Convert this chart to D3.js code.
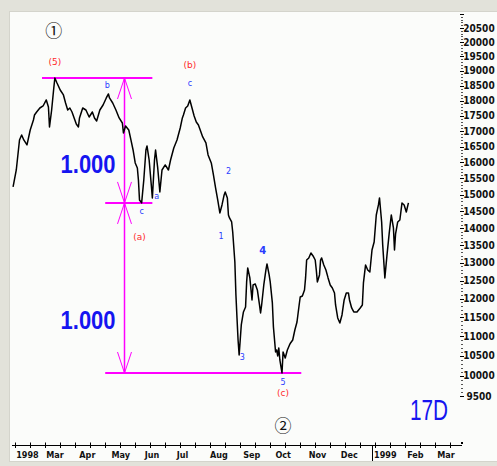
<!DOCTYPE html>
<html>
<head>
<meta charset="utf-8">
<script src="https://cdn.jsdelivr.net/npm/d3@7"></script>
<style>
  body { margin: 0; background: #e2e2da; }
  svg { display: block; }
</style>
</head>
<body>
<div id="chart"></div>
<script>
// ---- data ---------------------------------------------------------------
let dates = [
  "1998-01-31","1998-02-03","1998-02-06","1998-02-08","1998-02-10","1998-02-13","1998-02-16","1998-02-19","1998-02-20","1998-02-22",
  "1998-02-25","1998-02-28","1998-03-03","1998-03-05","1998-03-06","1998-03-08","1998-03-10","1998-03-11","1998-03-13","1998-03-16",
  "1998-03-19","1998-03-21","1998-03-23","1998-03-25","1998-03-27","1998-03-29","1998-03-31","1998-04-02","1998-04-03","1998-04-06",
  "1998-04-09","1998-04-12","1998-04-15","1998-04-17","1998-04-19","1998-04-22","1998-04-25","1998-04-28","1998-04-30","1998-05-01",
  "1998-05-04","1998-05-07","1998-05-10","1998-05-13","1998-05-14","1998-05-16","1998-05-19","1998-05-21","1998-05-23","1998-05-25",
  "1998-05-27","1998-05-28","1998-05-29","1998-05-31","1998-06-02","1998-06-04","1998-06-05","1998-06-07","1998-06-09","1998-06-10",
  "1998-06-12","1998-06-13","1998-06-15","1998-06-17","1998-06-19","1998-06-22","1998-06-25","1998-06-27","1998-06-30","1998-07-03",
  "1998-07-06","1998-07-08","1998-07-09","1998-07-11","1998-07-13","1998-07-15","1998-07-17","1998-07-19","1998-07-21","1998-07-23",
  "1998-07-24","1998-07-27","1998-07-30","1998-08-01","1998-08-04","1998-08-06","1998-08-08","1998-08-10","1998-08-12","1998-08-14",
  "1998-08-16","1998-08-17","1998-08-19","1998-08-20","1998-08-21","1998-08-23","1998-08-24","1998-08-26","1998-08-27","1998-08-28",
  "1998-08-29","1998-08-30","1998-08-31","1998-09-01","1998-09-03","1998-09-05","1998-09-06","1998-09-07","1998-09-09","1998-09-11",
  "1998-09-12","1998-09-14","1998-09-16","1998-09-18","1998-09-19","1998-09-20","1998-09-22","1998-09-24","1998-09-25","1998-09-27",
  "1998-09-28","1998-09-30","1998-10-01","1998-10-03","1998-10-04","1998-10-05","1998-10-06","1998-10-07","1998-10-09","1998-10-10",
  "1998-10-12","1998-10-14","1998-10-16","1998-10-17","1998-10-19","1998-10-21","1998-10-23","1998-10-25","1998-10-26","1998-10-28",
  "1998-10-30","1998-10-31","1998-11-01","1998-11-03","1998-11-05","1998-11-07","1998-11-09","1998-11-10","1998-11-11","1998-11-13",
  "1998-11-14","1998-11-15","1998-11-17","1998-11-19","1998-11-21","1998-11-23","1998-11-25","1998-11-27","1998-11-28","1998-11-30",
  "1998-12-02","1998-12-04","1998-12-06","1998-12-08","1998-12-10","1998-12-11","1998-12-13","1998-12-15","1998-12-18","1998-12-21",
  "1998-12-23","1998-12-24","1998-12-26","1998-12-28","1998-12-30","1999-01-01","1999-01-03","1999-01-05","1999-01-07","1999-01-08",
  "1999-01-09","1999-01-10","1999-01-11","1999-01-13","1999-01-15","1999-01-17","1999-01-19","1999-01-21","1999-01-22","1999-01-23",
  "1999-01-25","1999-01-27","1999-01-29","1999-01-31","1999-02-02","1999-02-04"
];

let closes = [
  15236,15761,16711,16872,16711,16551,17033,17359,17523,17621,
  17753,17820,18020,17787,17131,17687,18422,18760,18591,18355,
  18188,17920,17687,17753,17621,17425,17229,17131,17425,17753,
  17687,17457,17621,17425,17326,17687,17853,18087,18221,18087,
  17920,17687,17425,17261,16936,17163,17033,16711,16391,15980,
  15824,15451,14840,14750,15451,16391,16519,16074,15297,14901,
  16074,16391,15824,15083,15761,15918,15761,16074,16455,16711,
  17098,17425,17523,17753,17820,18020,17753,17490,17294,17196,
  17098,16808,16615,16233,15980,15606,15205,14840,14449,14689,
  14992,15083,14901,14389,14300,14181,13887,13023,12104,11484,
  10905,10520,10905,11298,11644,11778,12463,12853,12574,11968,
  12379,12407,12241,11832,11617,11832,12379,12797,12966,12658,
  12463,11887,11245,10596,10647,10495,10699,10393,10065,10596,
  10444,10647,10776,10828,10905,11166,11377,11832,12049,12077,
  12241,12574,13079,13136,13279,13193,13079,12797,12463,12658,
  13079,13136,12938,12797,12574,12379,12296,12159,11832,11484,
  11351,11564,11968,12159,12159,11968,11751,11644,11644,11751,
  11832,12435,12938,12797,12741,13365,13596,14389,14689,14901,
  14538,14181,13510,12574,13222,13829,14389,14004,13365,13829,
  14181,14240,14750,14689,14479,14750
];

// price axis labels
let yTickValues = [9500, 10000, 10500, 11000, 11500, 12000, 12500, 13000, 13500, 14000, 14500,
  15000, 15500, 16000, 16500, 17000, 17500, 18000, 18500, 19000, 19500, 20000, 20500];

// month labels (first of each month)
let monthDates = ["1998-02-01","1998-03-01","1998-04-01","1998-05-01","1998-06-01","1998-07-01","1998-08-01",
  "1998-09-01","1998-10-01","1998-11-01","1998-12-01","1999-01-01","1999-02-01","1999-03-01"];
let monthLabels = ["1998","Mar","Apr","May","Jun","Jul","Aug","Sep","Oct","Nov","Dec","1999","Feb","Mar"];

// fibonacci measure: price levels and their extents
let fibLevels = [18760, 14750, 10065];
let fibFrom = ["1998-02-27", "1998-04-27", "1998-04-27"];
let fibTo = ["1998-06-10", "1998-06-10", "1998-10-27"];
let measureDate = "1998-05-15";
let ratioText = ["1.000", "1.000"];
let ratioDates = ["1998-04-11", "1998-04-11"];
let ratioPrices = [15668, 11192];

// wave labels
let waveText = ["(5)", "b", "c", "(a)", "a", "(b)", "c", "1", "2", "3", "4", "5", "(c)"];
let waveDates = ["1998-03-11","1998-04-29","1998-05-31","1998-05-29","1998-06-14","1998-07-15","1998-07-15",
  "1998-08-13","1998-08-20","1998-09-02","1998-09-21","1998-10-10","1998-10-10"];
let wavePrices = [19310, 18490, 14479, 13741, 14931, 19205, 18558, 13741, 15699, 10444, 13336, 9820, 9573];
let waveDegree = ["intermediate","minor","minor","intermediate","minor","intermediate","minor",
  "minor","minor","minor","minor","minor","intermediate"];

let circleText = ["\u2460", "\u2461"];
let circleDates = ["1998-03-10", "1998-10-10"];
let circlePrices = [20429, 8812];

// ---- setup ----------------------------------------------------------------
let width = 497;
let height = 466;
let parse = d3.timeParse("%Y-%m-%d");

let data = dates.map(function(d, i) {
  return { date: parse(d), close: closes[i] };
});

let svg = d3.select("#chart")
  .append("svg")
  .attr("width", width)
  .attr("height", height);

// panel
svg.append("rect")
  .attr("x", 9.5)
  .attr("y", 11.5)
  .attr("width", width - 9)
  .attr("height", 450)
  .attr("fill", "#fbfcfa")
  .attr("stroke", "#d4d4cc");

let x = d3.scaleTime()
  .domain([parse("1998-01-30"), parse("1999-03-26")])
  .range([12, 462]);

let y = d3.scalePow()
  .exponent(0.5)
  .domain([9500, 20500])
  .range([396, 28]);

let axisY = 445;
let narrow = "'Liberation Sans Narrow', 'Arial Narrow', 'DejaVu Sans Condensed', sans-serif";

// ---- x axis ---------------------------------------------------------------
svg.append("line")
  .attr("x1", 12).attr("x2", 462)
  .attr("y1", axisY + 0.5).attr("y2", axisY + 0.5)
  .attr("stroke", "#000").attr("stroke-width", 1.2);

let tickDays = d3.timeMonday.every(2).range(x.domain()[0], x.domain()[1]);
svg.append("g").selectAll("line")
  .data(tickDays)
  .enter().append("line")
  .attr("x1", function(d) { return Math.round(x(d)) + 0.5; })
  .attr("x2", function(d) { return Math.round(x(d)) + 0.5; })
  .attr("y1", axisY - 2.5)
  .attr("y2", axisY + 3)
  .attr("stroke", "#000");

svg.append("rect")
  .attr("x", 461).attr("y", axisY - 3)
  .attr("width", 2).attr("height", 2)
  .attr("fill", "#000");

// year separator
svg.append("line")
  .attr("x1", Math.round(x(parse("1999-01-01"))) + 0.5)
  .attr("x2", Math.round(x(parse("1999-01-01"))) + 0.5)
  .attr("y1", axisY)
  .attr("y2", 461)
  .attr("stroke", "#000");

svg.append("g").selectAll("text")
  .data(monthDates)
  .enter().append("text")
  .attr("x", function(d) { return x(parse(d)) + 2; })
  .attr("y", 458)
  .attr("font-family", narrow)
  .attr("font-weight", "bold")
  .attr("font-size", 9)
  .attr("fill", "#111")
  .text(function(d, i) { return monthLabels[i]; });

// ---- y axis (right side) --------------------------------------------------
let minorTicks = d3.range(9500, 21001, 100);
svg.append("g").selectAll("rect")
  .data(minorTicks)
  .enter().append("rect")
  .attr("x", function(d) { return d % 500 === 0 ? 460 : 461; })
  .attr("y", function(d) { return Math.round(y(d)); })
  .attr("width", function(d) { return d % 500 === 0 ? 4 : 2; })
  .attr("height", 1)
  .attr("fill", function(d) { return d % 500 === 0 ? "#000" : "#555"; });

svg.append("g").selectAll("text")
  .data(yTickValues)
  .enter().append("text")
  .attr("x", 479)
  .attr("y", function(d) { return y(d) + 3.5; })
  .attr("text-anchor", "middle")
  .attr("font-family", narrow)
  .attr("font-weight", "bold")
  .attr("font-size", 10)
  .attr("fill", "#111")
  .text(function(d) { return d; });

// ---- fibonacci measure (magenta) ------------------------------------------
let magenta = "#ff00ff";
let fib = svg.append("g");

fibLevels.forEach(function(level, i) {
  fib.append("line")
    .attr("x1", x(parse(fibFrom[i])))
    .attr("x2", x(parse(fibTo[i])))
    .attr("y1", y(level))
    .attr("y2", y(level))
    .attr("stroke", magenta)
    .attr("stroke-width", 2);
});

let mx = x(parse(measureDate));
fib.append("line")
  .attr("x1", mx).attr("x2", mx)
  .attr("y1", y(fibLevels[0]))
  .attr("y2", y(fibLevels[2]))
  .attr("stroke", magenta)
  .attr("stroke-width", 1.5);

// arrow heads: apex at the level, arms going up (-1) or down (+1)
function arrowHead(level, dir) {
  let ay = y(level);
  [-7, 7].forEach(function(dx) {
    fib.append("line")
      .attr("x1", mx).attr("y1", ay)
      .attr("x2", mx + dx).attr("y2", ay + dir * 21)
      .attr("stroke", magenta)
      .attr("stroke-width", 1);
  });
}
arrowHead(fibLevels[0], 1);
arrowHead(fibLevels[1], -1);
arrowHead(fibLevels[1], 1);
arrowHead(fibLevels[2], -1);

// ratio labels
svg.append("g").selectAll("text")
  .data(ratioText)
  .enter().append("text")
  .attr("x", function(d, i) { return x(parse(ratioDates[i])); })
  .attr("y", function(d, i) { return y(ratioPrices[i]); })
  .attr("text-anchor", "middle")
  .attr("font-family", "'Liberation Sans', Arial, sans-serif")
  .attr("font-weight", "bold")
  .attr("font-size", 26)
  .attr("textLength", 55)
  .attr("lengthAdjust", "spacingAndGlyphs")
  .attr("fill", "#1515f0")
  .text(function(d) { return d; });

// ---- price line -----------------------------------------------------------
let line = d3.line()
  .x(function(d) { return x(d.date); })
  .y(function(d) { return y(d.close); });

svg.append("path")
  .datum(data)
  .attr("d", line)
  .attr("fill", "none")
  .attr("stroke", "#000")
  .attr("stroke-width", 1.5)
  .attr("stroke-linejoin", "round");

// ---- wave labels ----------------------------------------------------------
svg.append("g").selectAll("text")
  .data(waveText)
  .enter().append("text")
  .attr("x", function(d, i) { return x(parse(waveDates[i])); })
  .attr("y", function(d, i) { return y(wavePrices[i]); })
  .attr("text-anchor", "middle")
  .attr("dominant-baseline", "central")
  .attr("font-family", "'DejaVu Sans', sans-serif")
  .attr("font-size", function(d, i) { return waveDegree[i] === "intermediate" ? 9 : (d === "4" ? 10 : 8); })
  .attr("font-weight", function(d) { return d === "4" ? "bold" : "normal"; })
  .attr("fill", function(d, i) { return waveDegree[i] === "intermediate" ? "#ff2a2a" : "#2a3cff"; })
  .text(function(d) { return d; });

svg.append("g").selectAll("text")
  .data(circleText)
  .enter().append("text")
  .attr("x", function(d, i) { return x(parse(circleDates[i])); })
  .attr("y", function(d, i) { return y(circlePrices[i]); })
  .attr("text-anchor", "middle")
  .attr("dominant-baseline", "central")
  .attr("font-family", "'Noto Sans CJK JP', 'DejaVu Sans', sans-serif")
  .attr("font-size", 17)
  .attr("fill", "#111")
  .text(function(d) { return d; });

// ---- chart period tag -----------------------------------------------------
svg.append("text")
  .attr("x", 448)
  .attr("y", 420)
  .attr("text-anchor", "end")
  .attr("font-family", "'Liberation Sans', Arial, sans-serif")
  .attr("font-size", 30)
  .attr("textLength", 38)
  .attr("lengthAdjust", "spacingAndGlyphs")
  .attr("fill", "#1515f0")
  .text("17D");
</script>
</body>
</html>
